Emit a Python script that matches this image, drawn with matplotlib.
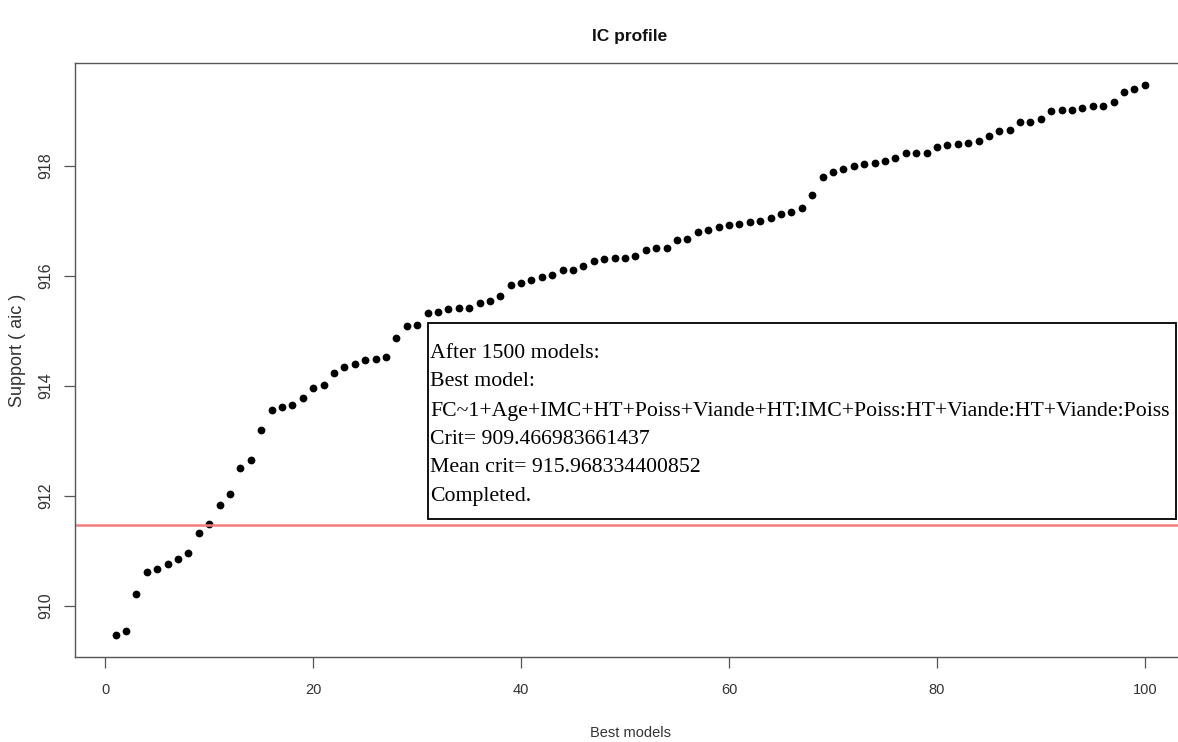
import matplotlib
matplotlib.use("Agg")
import matplotlib.pyplot as plt
from matplotlib.patches import Rectangle

# Criterion values of the 100 best models, sorted
model_rank = list(range(1, 101))
crit_values = [
    909.467, 909.54, 910.21, 910.62, 910.66, 910.75, 910.85, 910.95, 911.33, 911.48,
    911.83, 912.03, 912.50, 912.65, 913.19, 913.56, 913.62, 913.65, 913.77, 913.96,
    914.01, 914.23, 914.35, 914.40, 914.46, 914.48, 914.52, 914.87, 915.09, 915.11,
    915.33, 915.34, 915.39, 915.41, 915.41, 915.51, 915.55, 915.63, 915.83, 915.87,
    915.92, 915.98, 916.02, 916.10, 916.10, 916.18, 916.26, 916.30, 916.32, 916.32,
    916.36, 916.47, 916.50, 916.50, 916.65, 916.67, 916.79, 916.83, 916.89, 916.93,
    916.95, 916.98, 916.99, 917.05, 917.12, 917.16, 917.24, 917.47, 917.79, 917.89,
    917.95, 918.00, 918.04, 918.05, 918.08, 918.14, 918.24, 918.24, 918.24, 918.34,
    918.37, 918.40, 918.42, 918.46, 918.54, 918.63, 918.66, 918.79, 918.79, 918.85,
    919.00, 919.02, 919.02, 919.05, 919.08, 919.08, 919.16, 919.34, 919.39, 919.47,
]
best_crit = 909.466983661437
mean_crit = 915.968334400852
threshold = best_crit + 2

x_ticks = [0, 20, 40, 60, 80, 100]
y_ticks = [910, 912, 914, 916, 918]

info_lines = [
    "After 1500 models:",
    "Best model:",
    "FC~1+Age+IMC+HT+Poiss+Viande+HT:IMC+Poiss:HT+Viande:HT+Viande:Poiss",
    f"Crit= {best_crit}",
    f"Mean crit= {mean_crit}",
    "Completed.",
]

W, H = 1178, 742
plt.rcParams["font.family"] = ["Liberation Sans", "DejaVu Sans"]

fig = plt.figure(figsize=(W / 100, H / 100), dpi=100)
fig.patch.set_facecolor("white")

# plot region in pixels: left 74.5, right 1186 (runs past the right edge), top 63, bottom 657
ax = fig.add_axes([74.5 / W, (H - 657) / H, (1186 - 74.5) / W, (657 - 63) / H])

ax.plot(model_rank, crit_values, linestyle="none", marker="o",
        markersize=5.6, color="black", markeredgewidth=0)
ax.axhline(threshold, color="#f47c7c", linewidth=1.8)

# R-style 4% padding on both axes
xr = model_rank[-1] - model_rank[0]
yr = max(crit_values) - min(crit_values)
ax.set_xlim(model_rank[0] - 0.04 * xr, model_rank[-1] + 0.04 * xr)
ax.set_ylim(min(crit_values) - 0.04 * yr, max(crit_values) + 0.04 * yr)

ax.set_xticks(x_ticks)
ax.set_yticks(y_ticks)
ax.set_yticklabels([str(v) for v in y_ticks], rotation=90, va="center")
ax.tick_params(axis="both", direction="out", length=8, width=0.9,
               color="#555555", labelcolor="#333333")
ax.tick_params(axis="x", pad=11, labelsize=10.5)
ax.tick_params(axis="y", pad=7, labelsize=11.5)
for s in ax.spines.values():
    s.set_color("#555555")
    s.set_linewidth(1.0)

fig.text(630 / W, 1 - 37 / H, "IC profile", ha="center", va="center",
         fontsize=12.5, fontweight="bold", color="#111111")
fig.text(630 / W, 1 - 733 / H, "Best models", ha="center", va="center",
         fontsize=10.5, color="#333333")
fig.text(18 / W, 1 - 350 / H, "Support ( aic )", ha="center", va="center",
         rotation=90, fontsize=13, color="#333333")

# information box
box = Rectangle((428 / W, 1 - 519 / H), (1176 - 428) / W, (519 - 323) / H,
                transform=fig.transFigure, facecolor="white",
                edgecolor="black", linewidth=1.3, zorder=5)
fig.add_artist(box)
line_y = [353, 382, 411, 440, 468, 497]
for txt, yy in zip(info_lines, line_y):
    fig.text(430 / W, 1 - yy / H, txt, ha="left", va="center",
             fontsize=15.65, family=["Liberation Serif", "DejaVu Serif"],
             color="black", zorder=6)

fig.savefig("out.png", dpi=100)
